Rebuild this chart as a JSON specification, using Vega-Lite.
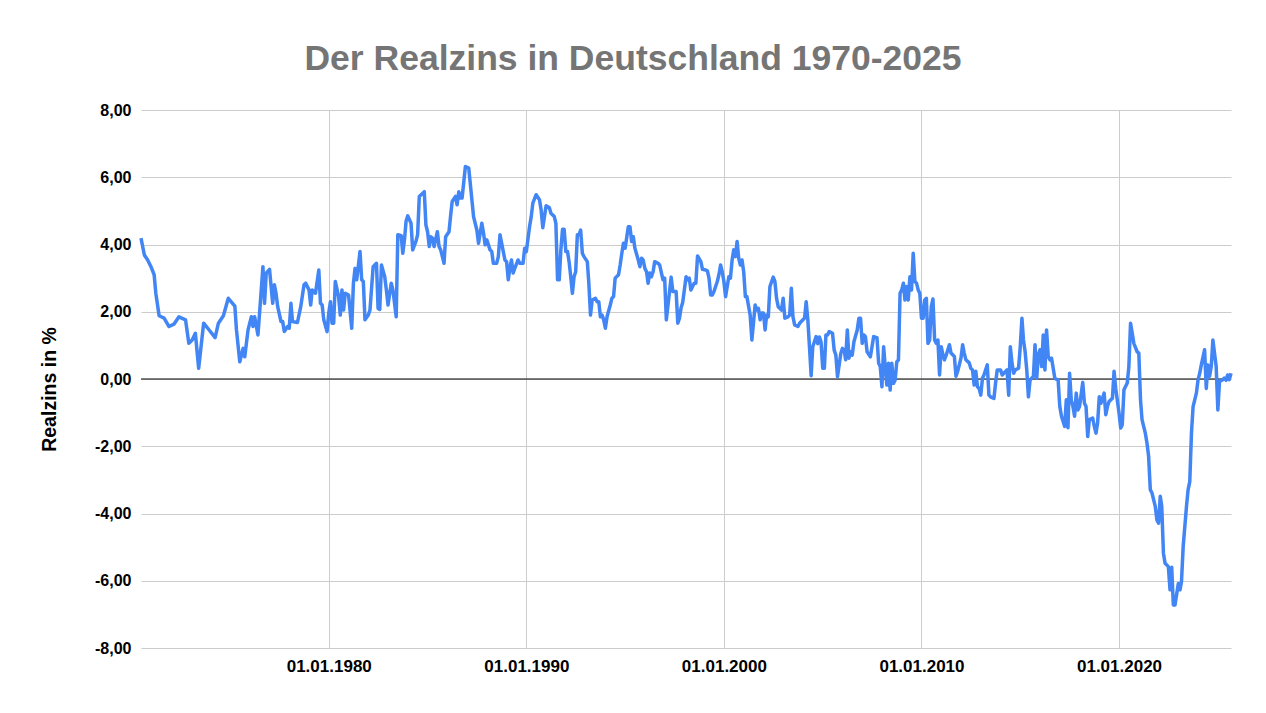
{
 "$schema": "https://vega.github.io/schema/vega-lite/v6.json",
 "width": 1090,
 "height": 538,
 "autosize": "none",
 "padding": {"left": 141, "top": 110, "right": 35, "bottom": 65},
 "background": "white",
 "config": {"view": {"stroke": null}, "font": "Liberation Sans"},
 "title": {"text": "Der Realzins in Deutschland 1970-2025", "font": "Liberation Sans", "fontSize": 35.5, "fontWeight": "bold", "color": "#757575", "anchor": "middle", "frame": "group", "dx": -53, "offset": -3, "baseline": "alphabetic"},
 "layer": [
  {
   "data": {"values": [{}]},
   "mark": {"type": "rule", "color": "#000000", "strokeWidth": 1},
   "encoding": {"y": {"datum": 0, "type": "quantitative"}}
  },
  {
   "data": {"values": [
{"Datum":"1970-07","Realzins":4.19},{"Datum":"1970-09","Realzins":3.69},{"Datum":"1970-11","Realzins":3.54},{"Datum":"1971-01","Realzins":3.34},{"Datum":"1971-03","Realzins":3.10},{"Datum":"1971-04","Realzins":2.55},{"Datum":"1971-06","Realzins":1.88},{"Datum":"1971-09","Realzins":1.81},{"Datum":"1971-12","Realzins":1.56},{"Datum":"1972-03","Realzins":1.63},{"Datum":"1972-06","Realzins":1.85},{"Datum":"1972-10","Realzins":1.76},{"Datum":"1972-12","Realzins":1.06},{"Datum":"1973-02","Realzins":1.16},{"Datum":"1973-04","Realzins":1.36},{"Datum":"1973-06","Realzins":0.32},{"Datum":"1973-09","Realzins":1.66},{"Datum":"1973-12","Realzins":1.48},{"Datum":"1974-04","Realzins":1.23},{"Datum":"1974-06","Realzins":1.66},{"Datum":"1974-09","Realzins":1.88},{"Datum":"1974-12","Realzins":2.40},{"Datum":"1975-04","Realzins":2.17},{"Datum":"1975-05","Realzins":1.46},{"Datum":"1975-07","Realzins":0.51},{"Datum":"1975-09","Realzins":0.91},{"Datum":"1975-10","Realzins":0.66},{"Datum":"1975-12","Realzins":1.46},{"Datum":"1976-02","Realzins":1.85},{"Datum":"1976-03","Realzins":1.56},{"Datum":"1976-04","Realzins":1.85},{"Datum":"1976-06","Realzins":1.31},{"Datum":"1976-07","Realzins":1.96},{"Datum":"1976-09","Realzins":3.34},{"Datum":"1976-10","Realzins":2.25},{"Datum":"1976-11","Realzins":3.15},{"Datum":"1977-01","Realzins":3.26},{"Datum":"1977-03","Realzins":2.25},{"Datum":"1977-04","Realzins":2.80},{"Datum":"1977-05","Realzins":2.55},{"Datum":"1977-06","Realzins":2.15},{"Datum":"1977-08","Realzins":1.71},{"Datum":"1977-09","Realzins":1.71},{"Datum":"1977-10","Realzins":1.41},{"Datum":"1977-12","Realzins":1.56},{"Datum":"1978-01","Realzins":1.51},{"Datum":"1978-02","Realzins":2.25},{"Datum":"1978-03","Realzins":1.71},{"Datum":"1978-06","Realzins":1.68},{"Datum":"1978-08","Realzins":2.15},{"Datum":"1978-10","Realzins":2.80},{"Datum":"1978-11","Realzins":2.85},{"Datum":"1979-01","Realzins":2.65},{"Datum":"1979-02","Realzins":2.20},{"Datum":"1979-03","Realzins":2.65},{"Datum":"1979-05","Realzins":2.55},{"Datum":"1979-07","Realzins":3.24},{"Datum":"1979-08","Realzins":2.25},{"Datum":"1979-09","Realzins":2.20},{"Datum":"1979-10","Realzins":1.76},{"Datum":"1979-12","Realzins":1.41},{"Datum":"1980-01","Realzins":1.96},{"Datum":"1980-02","Realzins":2.30},{"Datum":"1980-03","Realzins":1.66},{"Datum":"1980-04","Realzins":1.66},{"Datum":"1980-05","Realzins":2.90},{"Datum":"1980-07","Realzins":2.45},{"Datum":"1980-08","Realzins":1.90},{"Datum":"1980-09","Realzins":2.65},{"Datum":"1980-10","Realzins":2.05},{"Datum":"1980-11","Realzins":2.55},{"Datum":"1981-01","Realzins":2.50},{"Datum":"1981-03","Realzins":1.51},{"Datum":"1981-04","Realzins":2.85},{"Datum":"1981-05","Realzins":3.29},{"Datum":"1981-06","Realzins":2.95},{"Datum":"1981-08","Realzins":3.79},{"Datum":"1981-09","Realzins":2.95},{"Datum":"1981-10","Realzins":2.90},{"Datum":"1981-11","Realzins":1.76},{"Datum":"1982-01","Realzins":1.90},{"Datum":"1982-02","Realzins":2.05},{"Datum":"1982-04","Realzins":3.34},{"Datum":"1982-06","Realzins":3.44},{"Datum":"1982-07","Realzins":2.10},{"Datum":"1982-08","Realzins":2.07},{"Datum":"1982-09","Realzins":3.39},{"Datum":"1982-11","Realzins":3.04},{"Datum":"1982-12","Realzins":2.65},{"Datum":"1983-01","Realzins":2.20},{"Datum":"1983-03","Realzins":2.85},{"Datum":"1983-04","Realzins":2.65},{"Datum":"1983-06","Realzins":1.85},{"Datum":"1983-07","Realzins":4.29},{"Datum":"1983-09","Realzins":4.26},{"Datum":"1983-10","Realzins":3.74},{"Datum":"1983-11","Realzins":4.14},{"Datum":"1983-12","Realzins":4.70},{"Datum":"1984-01","Realzins":4.85},{"Datum":"1984-03","Realzins":4.63},{"Datum":"1984-04","Realzins":3.84},{"Datum":"1984-06","Realzins":4.10},{"Datum":"1984-07","Realzins":4.29},{"Datum":"1984-08","Realzins":5.43},{"Datum":"1984-11","Realzins":5.57},{"Datum":"1984-12","Realzins":4.58},{"Datum":"1985-01","Realzins":4.38},{"Datum":"1985-02","Realzins":3.94},{"Datum":"1985-03","Realzins":4.23},{"Datum":"1985-04","Realzins":4.19},{"Datum":"1985-05","Realzins":3.94},{"Datum":"1985-07","Realzins":4.38},{"Datum":"1985-08","Realzins":3.94},{"Datum":"1985-09","Realzins":3.84},{"Datum":"1985-11","Realzins":3.44},{"Datum":"1985-12","Realzins":4.23},{"Datum":"1986-02","Realzins":4.38},{"Datum":"1986-03","Realzins":4.83},{"Datum":"1986-04","Realzins":5.28},{"Datum":"1986-06","Realzins":5.43},{"Datum":"1986-07","Realzins":5.18},{"Datum":"1986-08","Realzins":5.57},{"Datum":"1986-09","Realzins":5.38},{"Datum":"1986-10","Realzins":5.38},{"Datum":"1986-12","Realzins":6.32},{"Datum":"1987-02","Realzins":6.27},{"Datum":"1987-03","Realzins":5.82},{"Datum":"1987-05","Realzins":4.83},{"Datum":"1987-07","Realzins":4.43},{"Datum":"1987-08","Realzins":4.04},{"Datum":"1987-10","Realzins":4.63},{"Datum":"1987-11","Realzins":4.34},{"Datum":"1987-12","Realzins":3.99},{"Datum":"1988-01","Realzins":4.14},{"Datum":"1988-03","Realzins":3.84},{"Datum":"1988-04","Realzins":3.79},{"Datum":"1988-05","Realzins":3.44},{"Datum":"1988-07","Realzins":3.44},{"Datum":"1988-08","Realzins":3.64},{"Datum":"1988-09","Realzins":4.29},{"Datum":"1988-10","Realzins":4.04},{"Datum":"1988-12","Realzins":3.54},{"Datum":"1989-01","Realzins":3.49},{"Datum":"1989-02","Realzins":2.95},{"Datum":"1989-03","Realzins":3.29},{"Datum":"1989-04","Realzins":3.54},{"Datum":"1989-05","Realzins":3.15},{"Datum":"1989-06","Realzins":3.29},{"Datum":"1989-08","Realzins":3.54},{"Datum":"1989-09","Realzins":3.44},{"Datum":"1989-11","Realzins":3.44},{"Datum":"1989-12","Realzins":3.89},{"Datum":"1990-01","Realzins":3.79},{"Datum":"1990-03","Realzins":4.53},{"Datum":"1990-04","Realzins":4.83},{"Datum":"1990-05","Realzins":5.23},{"Datum":"1990-07","Realzins":5.48},{"Datum":"1990-09","Realzins":5.33},{"Datum":"1990-10","Realzins":5.03},{"Datum":"1990-11","Realzins":4.50},{"Datum":"1991-01","Realzins":5.15},{"Datum":"1991-03","Realzins":5.10},{"Datum":"1991-04","Realzins":4.93},{"Datum":"1991-06","Realzins":4.83},{"Datum":"1991-07","Realzins":4.63},{"Datum":"1991-08","Realzins":2.95},{"Datum":"1991-09","Realzins":2.95},{"Datum":"1991-10","Realzins":3.84},{"Datum":"1991-11","Realzins":4.45},{"Datum":"1991-12","Realzins":4.45},{"Datum":"1992-01","Realzins":3.79},{"Datum":"1992-02","Realzins":3.79},{"Datum":"1992-03","Realzins":3.49},{"Datum":"1992-04","Realzins":3.04},{"Datum":"1992-05","Realzins":2.55},{"Datum":"1992-06","Realzins":3.04},{"Datum":"1992-07","Realzins":3.19},{"Datum":"1992-08","Realzins":4.29},{"Datum":"1992-09","Realzins":4.29},{"Datum":"1992-10","Realzins":4.43},{"Datum":"1992-11","Realzins":3.74},{"Datum":"1992-12","Realzins":3.64},{"Datum":"1993-02","Realzins":3.49},{"Datum":"1993-03","Realzins":2.85},{"Datum":"1993-04","Realzins":1.90},{"Datum":"1993-05","Realzins":2.35},{"Datum":"1993-07","Realzins":2.40},{"Datum":"1993-08","Realzins":2.30},{"Datum":"1993-09","Realzins":2.30},{"Datum":"1993-10","Realzins":1.85},{"Datum":"1993-11","Realzins":1.90},{"Datum":"1993-12","Realzins":1.76},{"Datum":"1994-01","Realzins":1.51},{"Datum":"1994-02","Realzins":1.85},{"Datum":"1994-04","Realzins":2.20},{"Datum":"1994-05","Realzins":2.40},{"Datum":"1994-06","Realzins":2.45},{"Datum":"1994-07","Realzins":3.00},{"Datum":"1994-09","Realzins":3.10},{"Datum":"1994-10","Realzins":3.39},{"Datum":"1994-11","Realzins":3.74},{"Datum":"1994-12","Realzins":4.04},{"Datum":"1995-01","Realzins":3.89},{"Datum":"1995-03","Realzins":4.53},{"Datum":"1995-04","Realzins":4.53},{"Datum":"1995-05","Realzins":4.09},{"Datum":"1995-06","Realzins":4.23},{"Datum":"1995-07","Realzins":3.89},{"Datum":"1995-09","Realzins":3.54},{"Datum":"1995-10","Realzins":3.34},{"Datum":"1995-11","Realzins":3.59},{"Datum":"1995-12","Realzins":3.54},{"Datum":"1996-01","Realzins":3.29},{"Datum":"1996-02","Realzins":3.19},{"Datum":"1996-03","Realzins":2.85},{"Datum":"1996-04","Realzins":3.15},{"Datum":"1996-05","Realzins":3.04},{"Datum":"1996-06","Realzins":3.19},{"Datum":"1996-07","Realzins":3.49},{"Datum":"1996-09","Realzins":3.44},{"Datum":"1996-10","Realzins":3.39},{"Datum":"1996-12","Realzins":2.95},{"Datum":"1997-01","Realzins":3.00},{"Datum":"1997-02","Realzins":1.76},{"Datum":"1997-04","Realzins":2.60},{"Datum":"1997-05","Realzins":3.03},{"Datum":"1997-06","Realzins":2.60},{"Datum":"1997-08","Realzins":2.60},{"Datum":"1997-09","Realzins":1.66},{"Datum":"1997-10","Realzins":1.80},{"Datum":"1997-11","Realzins":2.12},{"Datum":"1997-12","Realzins":2.28},{"Datum":"1998-02","Realzins":3.04},{"Datum":"1998-03","Realzins":2.95},{"Datum":"1998-04","Realzins":3.00},{"Datum":"1998-05","Realzins":2.65},{"Datum":"1998-07","Realzins":2.85},{"Datum":"1998-08","Realzins":2.85},{"Datum":"1998-09","Realzins":3.66},{"Datum":"1998-11","Realzins":3.49},{"Datum":"1998-12","Realzins":3.26},{"Datum":"1999-02","Realzins":3.24},{"Datum":"1999-03","Realzins":3.22},{"Datum":"1999-04","Realzins":3.00},{"Datum":"1999-05","Realzins":2.50},{"Datum":"1999-06","Realzins":2.50},{"Datum":"1999-07","Realzins":2.60},{"Datum":"1999-09","Realzins":2.90},{"Datum":"1999-10","Realzins":3.10},{"Datum":"1999-11","Realzins":3.39},{"Datum":"1999-12","Realzins":3.19},{"Datum":"2000-01","Realzins":2.90},{"Datum":"2000-02","Realzins":2.45},{"Datum":"2000-04","Realzins":3.04},{"Datum":"2000-05","Realzins":3.00},{"Datum":"2000-06","Realzins":3.54},{"Datum":"2000-07","Realzins":3.84},{"Datum":"2000-08","Realzins":3.64},{"Datum":"2000-09","Realzins":4.09},{"Datum":"2000-10","Realzins":3.59},{"Datum":"2000-11","Realzins":3.39},{"Datum":"2000-12","Realzins":3.54},{"Datum":"2001-01","Realzins":3.19},{"Datum":"2001-02","Realzins":2.45},{"Datum":"2001-03","Realzins":2.45},{"Datum":"2001-05","Realzins":1.90},{"Datum":"2001-06","Realzins":1.16},{"Datum":"2001-08","Realzins":2.20},{"Datum":"2001-09","Realzins":2.05},{"Datum":"2001-10","Realzins":2.10},{"Datum":"2001-11","Realzins":1.76},{"Datum":"2001-12","Realzins":1.96},{"Datum":"2002-01","Realzins":1.96},{"Datum":"2002-02","Realzins":1.46},{"Datum":"2002-03","Realzins":1.90},{"Datum":"2002-04","Realzins":1.85},{"Datum":"2002-05","Realzins":2.75},{"Datum":"2002-07","Realzins":3.03},{"Datum":"2002-08","Realzins":2.90},{"Datum":"2002-09","Realzins":2.40},{"Datum":"2002-10","Realzins":2.15},{"Datum":"2002-12","Realzins":2.05},{"Datum":"2003-01","Realzins":2.40},{"Datum":"2003-02","Realzins":1.81},{"Datum":"2003-04","Realzins":1.85},{"Datum":"2003-05","Realzins":1.90},{"Datum":"2003-06","Realzins":2.70},{"Datum":"2003-07","Realzins":1.85},{"Datum":"2003-08","Realzins":1.61},{"Datum":"2003-10","Realzins":1.56},{"Datum":"2003-11","Realzins":1.66},{"Datum":"2004-01","Realzins":1.76},{"Datum":"2004-02","Realzins":1.81},{"Datum":"2004-03","Realzins":2.30},{"Datum":"2004-04","Realzins":1.76},{"Datum":"2004-05","Realzins":0.96},{"Datum":"2004-06","Realzins":0.10},{"Datum":"2004-07","Realzins":0.96},{"Datum":"2004-09","Realzins":1.26},{"Datum":"2004-10","Realzins":1.05},{"Datum":"2004-11","Realzins":1.25},{"Datum":"2004-12","Realzins":1.10},{"Datum":"2005-01","Realzins":0.32},{"Datum":"2005-02","Realzins":0.32},{"Datum":"2005-03","Realzins":1.31},{"Datum":"2005-04","Realzins":1.31},{"Datum":"2005-05","Realzins":1.41},{"Datum":"2005-07","Realzins":1.36},{"Datum":"2005-08","Realzins":0.86},{"Datum":"2005-09","Realzins":0.71},{"Datum":"2005-10","Realzins":0.07},{"Datum":"2005-12","Realzins":0.76},{"Datum":"2006-01","Realzins":0.91},{"Datum":"2006-02","Realzins":0.86},{"Datum":"2006-03","Realzins":0.57},{"Datum":"2006-04","Realzins":1.46},{"Datum":"2006-05","Realzins":0.62},{"Datum":"2006-06","Realzins":0.81},{"Datum":"2006-07","Realzins":0.71},{"Datum":"2006-08","Realzins":1.11},{"Datum":"2006-10","Realzins":1.46},{"Datum":"2006-11","Realzins":1.81},{"Datum":"2006-12","Realzins":1.81},{"Datum":"2007-01","Realzins":1.06},{"Datum":"2007-02","Realzins":1.31},{"Datum":"2007-03","Realzins":1.26},{"Datum":"2007-04","Realzins":0.81},{"Datum":"2007-06","Realzins":0.66},{"Datum":"2007-07","Realzins":0.96},{"Datum":"2007-08","Realzins":1.26},{"Datum":"2007-10","Realzins":1.23},{"Datum":"2007-11","Realzins":0.47},{"Datum":"2007-12","Realzins":0.37},{"Datum":"2008-01","Realzins":-0.23},{"Datum":"2008-02","Realzins":0.96},{"Datum":"2008-03","Realzins":0.37},{"Datum":"2008-04","Realzins":-0.18},{"Datum":"2008-05","Realzins":0.47},{"Datum":"2008-06","Realzins":-0.33},{"Datum":"2008-07","Realzins":0.47},{"Datum":"2008-08","Realzins":-0.13},{"Datum":"2008-09","Realzins":-0.03},{"Datum":"2008-10","Realzins":0.51},{"Datum":"2008-11","Realzins":0.57},{"Datum":"2008-12","Realzins":2.55},{"Datum":"2009-01","Realzins":2.65},{"Datum":"2009-02","Realzins":2.85},{"Datum":"2009-03","Realzins":2.35},{"Datum":"2009-04","Realzins":2.75},{"Datum":"2009-05","Realzins":2.35},{"Datum":"2009-06","Realzins":3.04},{"Datum":"2009-07","Realzins":2.65},{"Datum":"2009-08","Realzins":3.74},{"Datum":"2009-09","Realzins":2.90},{"Datum":"2009-10","Realzins":2.85},{"Datum":"2009-11","Realzins":2.65},{"Datum":"2009-12","Realzins":2.55},{"Datum":"2010-01","Realzins":1.81},{"Datum":"2010-02","Realzins":1.81},{"Datum":"2010-03","Realzins":2.35},{"Datum":"2010-04","Realzins":2.40},{"Datum":"2010-05","Realzins":1.06},{"Datum":"2010-06","Realzins":1.16},{"Datum":"2010-07","Realzins":2.15},{"Datum":"2010-08","Realzins":2.38},{"Datum":"2010-09","Realzins":1.16},{"Datum":"2010-10","Realzins":1.06},{"Datum":"2010-11","Realzins":1.16},{"Datum":"2010-12","Realzins":0.12},{"Datum":"2011-01","Realzins":0.96},{"Datum":"2011-02","Realzins":0.72},{"Datum":"2011-03","Realzins":0.57},{"Datum":"2011-04","Realzins":0.70},{"Datum":"2011-06","Realzins":1.02},{"Datum":"2011-07","Realzins":0.77},{"Datum":"2011-09","Realzins":0.67},{"Datum":"2011-10","Realzins":0.08},{"Datum":"2011-11","Realzins":0.23},{"Datum":"2012-01","Realzins":0.62},{"Datum":"2012-02","Realzins":1.02},{"Datum":"2012-03","Realzins":0.77},{"Datum":"2012-04","Realzins":0.57},{"Datum":"2012-06","Realzins":0.48},{"Datum":"2012-07","Realzins":0.32},{"Datum":"2012-08","Realzins":0.27},{"Datum":"2012-09","Realzins":-0.18},{"Datum":"2012-10","Realzins":0.23},{"Datum":"2012-11","Realzins":-0.23},{"Datum":"2012-12","Realzins":-0.28},{"Datum":"2013-01","Realzins":-0.48},{"Datum":"2013-02","Realzins":0.02},{"Datum":"2013-03","Realzins":0.12},{"Datum":"2013-05","Realzins":0.42},{"Datum":"2013-06","Realzins":-0.48},{"Datum":"2013-07","Realzins":-0.53},{"Datum":"2013-09","Realzins":-0.58},{"Datum":"2013-10","Realzins":-0.13},{"Datum":"2013-11","Realzins":0.27},{"Datum":"2014-01","Realzins":0.27},{"Datum":"2014-02","Realzins":0.12},{"Datum":"2014-03","Realzins":0.17},{"Datum":"2014-05","Realzins":0.27},{"Datum":"2014-06","Realzins":-0.48},{"Datum":"2014-07","Realzins":0.96},{"Datum":"2014-08","Realzins":0.48},{"Datum":"2014-09","Realzins":0.17},{"Datum":"2014-10","Realzins":0.27},{"Datum":"2014-12","Realzins":0.32},{"Datum":"2015-01","Realzins":0.96},{"Datum":"2015-02","Realzins":1.81},{"Datum":"2015-03","Realzins":1.16},{"Datum":"2015-04","Realzins":0.81},{"Datum":"2015-05","Realzins":0.27},{"Datum":"2015-06","Realzins":-0.53},{"Datum":"2015-07","Realzins":-0.03},{"Datum":"2015-09","Realzins":0.08},{"Datum":"2015-10","Realzins":1.02},{"Datum":"2015-11","Realzins":0.02},{"Datum":"2015-12","Realzins":0.72},{"Datum":"2016-01","Realzins":0.87},{"Datum":"2016-02","Realzins":0.37},{"Datum":"2016-03","Realzins":1.31},{"Datum":"2016-04","Realzins":0.27},{"Datum":"2016-05","Realzins":1.46},{"Datum":"2016-06","Realzins":0.67},{"Datum":"2016-07","Realzins":0.57},{"Datum":"2016-08","Realzins":0.62},{"Datum":"2016-09","Realzins":0.32},{"Datum":"2016-10","Realzins":0.02},{"Datum":"2016-12","Realzins":-0.03},{"Datum":"2017-01","Realzins":-0.82},{"Datum":"2017-02","Realzins":-1.11},{"Datum":"2017-04","Realzins":-1.41},{"Datum":"2017-05","Realzins":-0.62},{"Datum":"2017-06","Realzins":-1.45},{"Datum":"2017-07","Realzins":0.17},{"Datum":"2017-08","Realzins":-0.62},{"Datum":"2017-09","Realzins":-0.82},{"Datum":"2017-10","Realzins":-1.11},{"Datum":"2017-11","Realzins":-0.42},{"Datum":"2017-12","Realzins":-0.92},{"Datum":"2018-01","Realzins":-0.82},{"Datum":"2018-03","Realzins":-0.10},{"Datum":"2018-04","Realzins":-0.72},{"Datum":"2018-05","Realzins":-0.82},{"Datum":"2018-06","Realzins":-1.71},{"Datum":"2018-07","Realzins":-1.21},{"Datum":"2018-09","Realzins":-1.16},{"Datum":"2018-10","Realzins":-1.41},{"Datum":"2018-11","Realzins":-1.61},{"Datum":"2018-12","Realzins":-1.31},{"Datum":"2019-01","Realzins":-0.53},{"Datum":"2019-02","Realzins":-0.72},{"Datum":"2019-04","Realzins":-0.42},{"Datum":"2019-05","Realzins":-1.06},{"Datum":"2019-06","Realzins":-0.82},{"Datum":"2019-07","Realzins":-0.67},{"Datum":"2019-09","Realzins":-0.57},{"Datum":"2019-10","Realzins":0.23},{"Datum":"2019-11","Realzins":-0.28},{"Datum":"2020-01","Realzins":-1.01},{"Datum":"2020-02","Realzins":-1.46},{"Datum":"2020-03","Realzins":-1.36},{"Datum":"2020-04","Realzins":-0.32},{"Datum":"2020-06","Realzins":-0.12},{"Datum":"2020-07","Realzins":0.37},{"Datum":"2020-08","Realzins":1.66},{"Datum":"2020-09","Realzins":1.36},{"Datum":"2020-10","Realzins":1.06},{"Datum":"2020-12","Realzins":0.81},{"Datum":"2021-01","Realzins":0.77},{"Datum":"2021-02","Realzins":-0.62},{"Datum":"2021-03","Realzins":-1.21},{"Datum":"2021-05","Realzins":-1.61},{"Datum":"2021-06","Realzins":-1.91},{"Datum":"2021-07","Realzins":-2.30},{"Datum":"2021-08","Realzins":-3.29},{"Datum":"2021-09","Realzins":-3.39},{"Datum":"2021-11","Realzins":-3.79},{"Datum":"2021-12","Realzins":-4.19},{"Datum":"2022-01","Realzins":-4.29},{"Datum":"2022-02","Realzins":-3.49},{"Datum":"2022-03","Realzins":-3.79},{"Datum":"2022-04","Realzins":-5.18},{"Datum":"2022-05","Realzins":-5.48},{"Datum":"2022-07","Realzins":-5.58},{"Datum":"2022-08","Realzins":-6.27},{"Datum":"2022-09","Realzins":-5.60},{"Datum":"2022-10","Realzins":-6.72},{"Datum":"2022-11","Realzins":-6.72},{"Datum":"2023-01","Realzins":-6.08},{"Datum":"2023-02","Realzins":-6.27},{"Datum":"2023-03","Realzins":-6.02},{"Datum":"2023-04","Realzins":-4.98},{"Datum":"2023-06","Realzins":-3.79},{"Datum":"2023-07","Realzins":-3.29},{"Datum":"2023-08","Realzins":-3.05},{"Datum":"2023-09","Realzins":-1.61},{"Datum":"2023-10","Realzins":-0.82},{"Datum":"2023-12","Realzins":-0.42},{"Datum":"2024-01","Realzins":-0.02},{"Datum":"2024-02","Realzins":0.17},{"Datum":"2024-03","Realzins":0.42},{"Datum":"2024-05","Realzins":0.87},{"Datum":"2024-06","Realzins":-0.28},{"Datum":"2024-07","Realzins":0.42},{"Datum":"2024-08","Realzins":0.08},{"Datum":"2024-09","Realzins":0.37},{"Datum":"2024-10","Realzins":1.16},{"Datum":"2024-12","Realzins":0.37},{"Datum":"2025-01","Realzins":-0.92},{"Datum":"2025-02","Realzins":-0.07},{"Datum":"2025-04","Realzins":-0.02},{"Datum":"2025-05","Realzins":0.03},{"Datum":"2025-06","Realzins":-0.04},{"Datum":"2025-07","Realzins":0.12},{"Datum":"2025-08","Realzins":-0.02},{"Datum":"2025-09","Realzins":0.17}
   ]},
   "mark": {"type": "line", "color": "#4285F4", "strokeWidth": 3.5, "strokeJoin": "round"},
   "encoding": {
    "x": {"field": "Datum", "type": "temporal", "scale": {"type": "utc", "nice": false},
          "axis": {"title": null, "format": "%d.%m.%Y", "tickCount": {"interval": "year", "step": 10}, "grid": true, "gridColor": "#cccccc", "gridWidth": 1, "domain": false, "ticks": false, "labelFont": "Liberation Sans", "labelFontSize": 17, "labelFontWeight": "bold", "labelColor": "#000000", "labelPadding": 10}},
    "y": {"field": "Realzins", "type": "quantitative", "scale": {"domain": [-8, 8], "nice": false},
          "axis": {"title": "Realzins in %", "values": [-8, -6, -4, -2, 0, 2, 4, 6, 8], "labelExpr": "(datum.value < 0 ? '-' : '') + replace(format(abs(datum.value), '.2f'), '.', ',')", "grid": true, "gridColor": "#cccccc", "gridWidth": 1, "domain": false, "ticks": false, "labelFont": "Liberation Sans", "labelFontSize": 16, "labelFontWeight": "bold", "labelColor": "#000000", "labelPadding": 10, "titleFont": "Liberation Sans", "titleFontSize": 19.5, "titleFontWeight": "bold", "titleColor": "#000000", "titlePadding": 35, "titleY": 279}}
   }
  }
 ]
}
